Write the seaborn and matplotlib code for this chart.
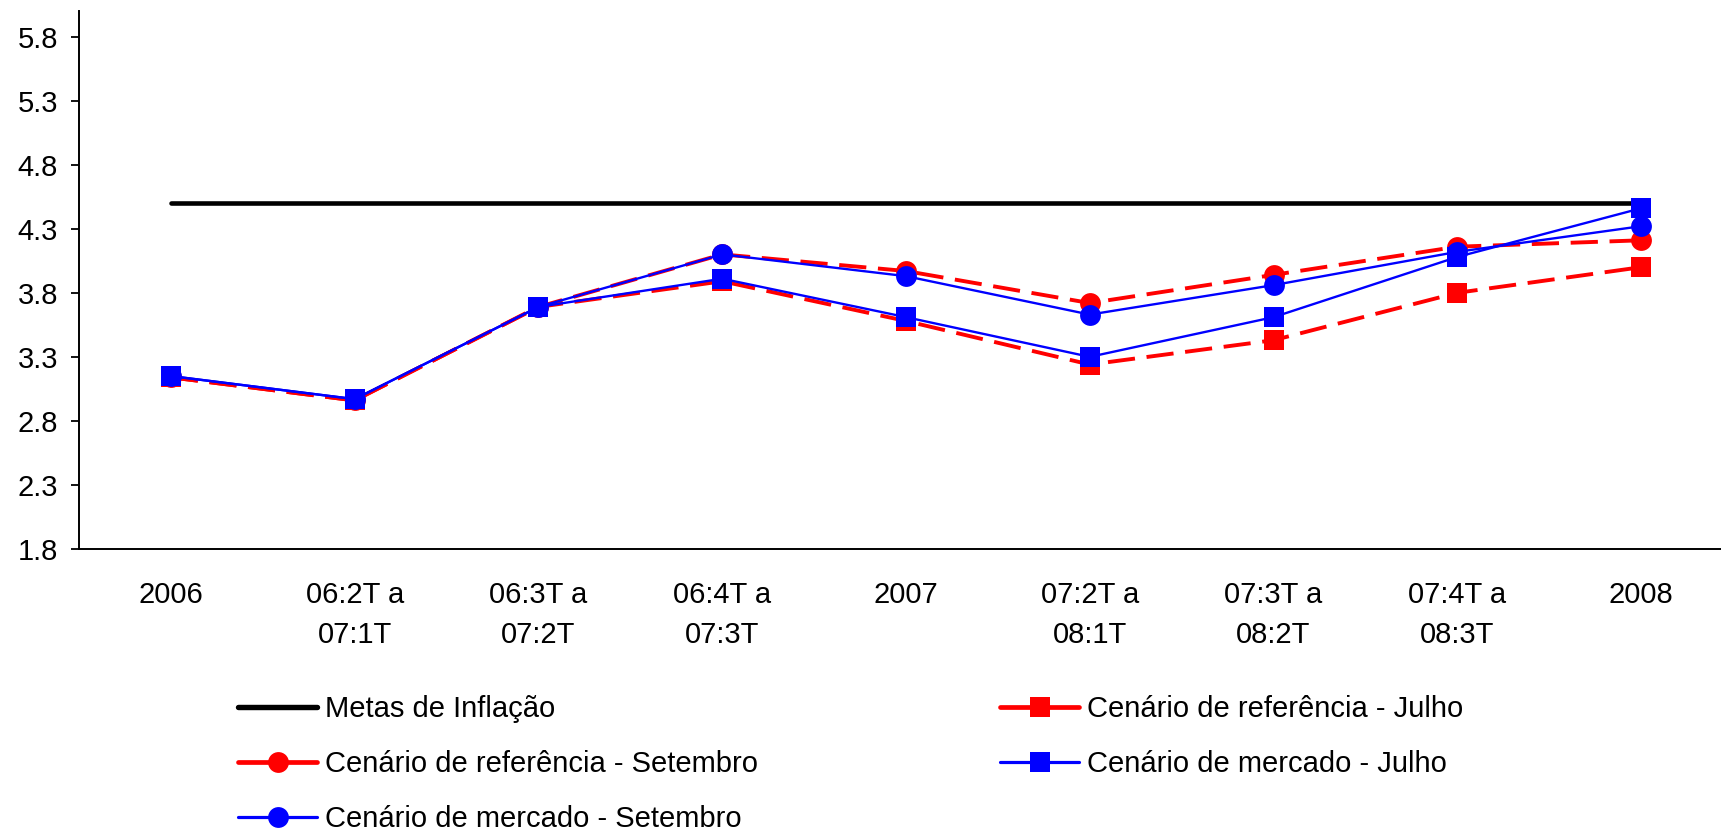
import matplotlib
matplotlib.use("Agg")
import matplotlib.pyplot as plt
import seaborn as sns
import pandas as pd
from matplotlib.ticker import FixedLocator
from matplotlib.lines import Line2D

periods = ["2006", "06:2T a\n07:1T", "06:3T a\n07:2T", "06:4T a\n07:3T", "2007",
           "07:2T a\n08:1T", "07:3T a\n08:2T", "07:4T a\n08:3T", "2008"]

metas = [4.5, 4.5, 4.5, 4.5, 4.5, 4.5, 4.5, 4.5, 4.5]
ref_julho = [3.14, 2.96, 3.69, 3.89, 3.58, 3.24, 3.43, 3.80, 4.00]
ref_setembro = [3.14, 2.96, 3.69, 4.10, 3.97, 3.72, 3.94, 4.16, 4.21]
merc_julho = [3.15, 2.97, 3.69, 3.91, 3.61, 3.30, 3.61, 4.08, 4.46]
merc_setembro = [3.15, 2.97, 3.69, 4.10, 3.93, 3.63, 3.86, 4.12, 4.32]

y_ticks = [1.8, 2.3, 2.8, 3.3, 3.8, 4.3, 4.8, 5.3, 5.8]

sns.set_theme(style="white")
plt.rcParams["font.family"] = ["Liberation Sans", "DejaVu Sans"]
plt.rcParams["text.color"] = "black"
plt.rcParams["xtick.color"] = "black"
plt.rcParams["ytick.color"] = "black"
FS = 21

fig = plt.figure(figsize=(17.21, 8.34), dpi=100)
ax = fig.add_axes([79 / 1721, 1 - 549 / 834, (1733 - 79) / 1721, (549 - 11) / 834])

x = list(range(len(periods)))

series = [
    ("Metas de Inflação", metas, dict(color="black", lw=3.3, marker=None)),
    ("Cenário de referência - Julho", ref_julho,
     dict(color="#ff0000", lw=2.8, marker="s", ms=14.5, dashes=(7.0, 3.0))),
    ("Cenário de referência - Setembro", ref_setembro,
     dict(color="#ff0000", lw=2.8, marker="o", ms=15, dashes=(7.0, 3.0))),
    ("Cenário de mercado - Julho", merc_julho,
     dict(color="#0000ff", lw=1.7, marker="s", ms=14.5)),
    ("Cenário de mercado - Setembro", merc_setembro,
     dict(color="#0000ff", lw=1.7, marker="o", ms=15)),
]

handles = {}
for name, vals, st in series:
    df = pd.DataFrame({"x": x, "y": vals})
    kw = dict(color=st["color"], linewidth=st["lw"])
    if st.get("marker"):
        kw.update(marker=st["marker"], markersize=st["ms"],
                  markeredgewidth=0, markerfacecolor=st["color"])
    sns.lineplot(data=df, x="x", y="y", ax=ax, sort=False, **kw)
    line = ax.lines[-1]
    if "dashes" in st:
        line.set_dashes(st["dashes"])
    # legend key: solid stroke with a single marker
    handles[name] = Line2D([], [], color=st["color"], linewidth=st["lw"] + 0.6,
                           marker=st.get("marker") or "", markersize=st.get("ms", 0),
                           markeredgewidth=0, markerfacecolor=st["color"])

ax.set_xlim(-0.5, len(periods) - 0.5)
ax.set_ylim(1.8, 6.0)
ax.set_xlabel("")
ax.set_ylabel("")

ax.set_yticks(y_ticks)
ax.set_yticklabels([f"{v:.1f}" for v in y_ticks], fontsize=FS)
ax.set_xticks(x)
ax.set_xticklabels(periods, fontsize=FS, linespacing=1.56)
ax.xaxis.set_minor_locator(FixedLocator([i - 0.5 for i in range(len(periods) + 1)]))
ax.tick_params(axis="x", which="major", length=0, pad=23)
ax.tick_params(axis="x", which="minor", length=8, width=1.3, color="black", direction="out")
ax.tick_params(axis="y", which="major", length=6, width=1.3, color="black",
               direction="out", pad=9, left=True)

for s in ["top", "right"]:
    ax.spines[s].set_visible(False)
for s in ["left", "bottom"]:
    ax.spines[s].set_color("black")
    ax.spines[s].set_linewidth(1.4)
ax.grid(False)

order = ["Metas de Inflação", "Cenário de referência - Setembro", "Cenário de mercado - Setembro",
         "Cenário de referência - Julho", "Cenário de mercado - Julho"]
fig.legend([handles[n] for n in order], order, ncol=2, frameon=False,
           loc="upper left", bbox_to_anchor=(238 / 1721, 1 - 695 / 834),
           fontsize=FS, handlelength=2.71, handletextpad=0.27,
           columnspacing=8.3, labelspacing=0.93, borderpad=0, borderaxespad=0)

fig.savefig("out.png", dpi=100)
